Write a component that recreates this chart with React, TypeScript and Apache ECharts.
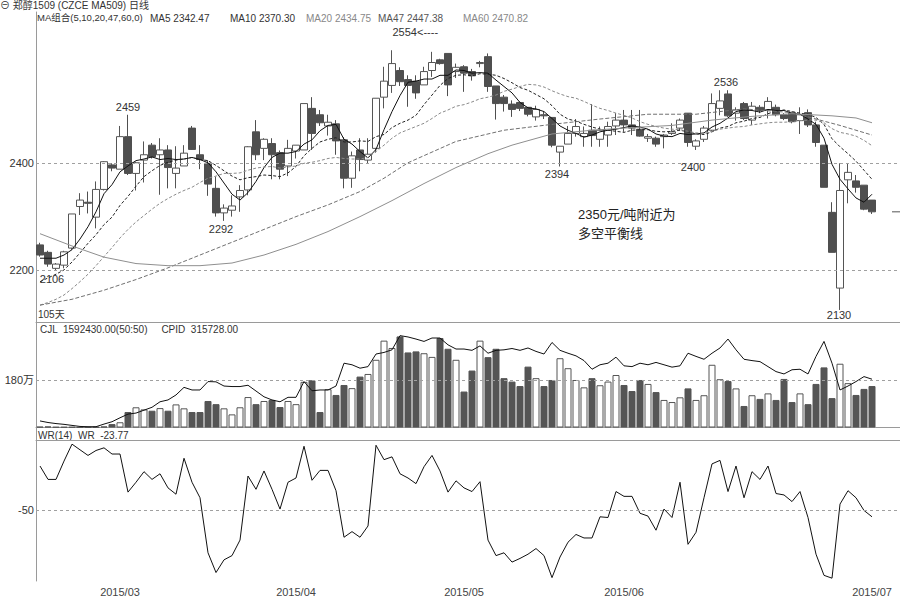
import React, { useEffect, useRef } from 'react';
import * as echarts from 'echarts';

// ---------- data ----------
const opens = [2247,2233,2203,2209,2241,2319,2327,2299,2351,2397,
2389,2450,2381,2406,2434,2416,2425,2381,2395,2466,
2416,2400,2353,2307,2312,2337,2350,2459,2428,2437,
2420,2395,2423,2425,2503,2491,2470,2474,2444,2372,
2425,2406,2428,2524,2546,2574,2557,2554,2547,2574,
2594,2606,2572,2581,2572,2587,2600,2545,2524,2511,
2514,2505,2487,2491,2486,2421,2436,2456,2450,2462,
2445,2453,2470,2481,2472,2464,2447,2447,2450,2456,
2466,2494,2432,2445,2462,2503,2530,2494,2512,2481,
2505,2500,2505,2491,2495,2480,2495,2472,2434,2308,
2166,2369,2367,2359,2331];
const closes = [2228,2211,2211,2234,2305,2331,2325,2351,2403,2391,
2450,2381,2401,2416,2412,2425,2392,2391,2419,2426,
2407,2361,2307,2316,2320,2349,2431,2416,2445,2416,
2389,2428,2434,2512,2456,2476,2477,2442,2372,2414,
2407,2417,2522,2554,2587,2553,2546,2532,2572,2589,
2587,2547,2580,2569,2564,2589,2544,2512,2512,2501,
2503,2492,2501,2489,2434,2432,2456,2469,2456,2452,
2462,2469,2481,2472,2466,2451,2450,2436,2453,2459,
2481,2439,2442,2466,2512,2517,2489,2500,2484,2507,
2499,2516,2491,2484,2478,2491,2472,2439,2355,2233,
2349,2383,2355,2314,2309];
const lows = [2225,2206,2199,2203,2238,2303,2306,2278,2349,2385,
2389,2378,2349,2364,2409,2341,2353,2353,2395,2425,
2389,2339,2300,2292,2300,2309,2340,2406,2406,2370,
2370,2376,2409,2425,2425,2470,2452,2416,2353,2354,
2385,2400,2420,2503,2532,2545,2506,2521,2547,2562,
2585,2526,2560,2534,2555,2580,2534,2482,2497,2487,
2498,2488,2480,2483,2430,2394,2436,2450,2431,2431,
2431,2431,2453,2459,2453,2450,2440,2431,2428,2453,
2462,2431,2425,2440,2460,2490,2487,2480,2481,2472,
2494,2484,2488,2481,2475,2455,2468,2431,2355,2233,
2125,2325,2345,2312,2305];
const highs = [2251,2236,2213,2236,2305,2344,2347,2366,2404,2400,
2470,2491,2403,2441,2438,2447,2434,2432,2434,2470,
2434,2406,2375,2323,2340,2359,2432,2481,2447,2447,
2424,2444,2434,2512,2524,2500,2491,2481,2449,2422,
2447,2447,2522,2581,2612,2580,2565,2565,2581,2609,
2596,2606,2587,2584,2577,2592,2606,2545,2528,2518,
2516,2505,2508,2497,2486,2432,2470,2483,2469,2511,
2469,2478,2494,2500,2500,2500,2455,2450,2455,2475,
2484,2494,2445,2470,2531,2537,2537,2505,2515,2515,
2509,2524,2510,2494,2497,2505,2501,2478,2434,2327,
2400,2400,2378,2359,2331];

const ma5 = [2222,2222,2222,2228,
2238,2258,2281,2309,2343,2360,2384,2395,2405,2408,
2412,2407,2409,2407,2408,2411,2407,2401,2384,2363,
2342,2331,2345,2366,2392,2411,2419,2419,2422,2436,
2444,2461,2471,2473,2445,2436,2422,2410,2426,2463,
2497,2527,2552,2554,2558,2558,2565,2565,2575,2574,
2569,2570,2569,2556,2544,2532,2514,2504,2502,2497,
2484,2470,2462,2456,2449,2453,2459,2462,2464,2467,
2470,2468,2464,2455,2451,2450,2456,2454,2455,2457,
2468,2475,2485,2497,2500,2499,2496,2501,2499,2499,
2494,2492,2483,2473,2447,2398,2370,2352,2335,2327,
2342];
const ma10 = [2178,2185,2192,2200,2215,2232,2250,2266,2285,
2299,2321,2338,2357,2375,2386,2396,2402,2406,2408,
2411,2407,2405,2396,2386,2376,2369,2373,2375,2378,
2377,2375,2382,2394,2414,2428,2440,2445,2448,2440,
2440,2442,2441,2450,2454,2467,2475,2481,2490,2510,
2528,2546,2559,2565,2566,2564,2568,2567,2565,2559,
2551,2542,2537,2529,2521,2508,2492,2483,2479,2473,
2468,2464,2462,2460,2458,2462,2463,2463,2460,2459,
2460,2462,2459,2455,2454,2459,2466,2469,2476,2479,
2484,2486,2493,2498,2500,2497,2494,2492,2486,2473,
2446,2431,2418,2404,2387,2370];
const ma20 = [2134,2139,2145,2153,2165,2178,2192,2208,2225,2242,2260,2276,2290,2302,2314,2325,2334,2342,2349,
2355,2364,2372,2376,2381,2381,2382,2387,2391,2393,
2394,2391,2393,2395,2400,2402,2405,2409,2411,2409,
2408,2408,2411,2422,2434,2447,2457,2463,2469,2475,
2484,2494,2500,2507,2510,2515,2521,2524,2528,2535,
2539,2544,2548,2547,2543,2536,2530,2525,2522,2516,
2509,2503,2499,2494,2490,2485,2478,2473,2469,2466,
2464,2463,2460,2457,2456,2460,2464,2466,2468,2469,
2472,2474,2476,2477,2477,2478,2480,2481,2481,2476,
2465,2458,2455,2451,2443,2433];
const ma47Idx = [0,4,8,12,16,20,24,28,32,36,40,43,46,52,58,64,70,76,82,88,94,100,104];
const ma47Val = [2134,2145,2162,2182,2204,2228,2252,2276,2300,2322,2347,2372,2401,2441,2462,2473,2483,2492,2492,2502,2495,2471,2453];
const ma60Idx = [0,4,8,12,16,20,24,28,32,36,40,44,48,52,56,59,64,69,74,79,84,89,94,99,102,104];
const ma60Val = [2268,2245,2224,2212,2208,2208,2213,2228,2248,2272,2300,2330,2362,2392,2418,2434,2455,2462,2467,2471,2481,2488,2493,2489,2485,2476];

const volume = [3,4,2,2,2,1,1,2,4,13,
20,59,77,69,64,74,64,88,73,59,
59,101,89,73,50,77,116,89,101,105,
78,101,89,174,180,59,146,124,162,150,
194,204,258,331,303,347,286,290,283,269,
341,300,258,137,217,331,268,300,188,175,
158,232,188,158,181,264,226,181,153,188,
161,175,200,162,139,181,166,135,105,97,
115,149,105,123,239,184,177,149,82,123,
109,130,105,185,97,130,89,166,229,112,
243,169,124,147,158];
const openInterest = [25,19,15,12,8,4,3,3,13,22,
37,51,55,66,77,98,105,124,153,143,
143,175,174,158,156,156,161,139,117,105,
98,115,115,175,140,143,143,158,245,239,
226,232,280,286,296,350,345,337,328,341,
341,315,299,299,294,311,283,294,296,301,
294,303,290,280,324,294,283,273,255,222,
239,245,268,235,232,245,239,248,239,230,
235,283,271,260,283,303,337,296,260,255,
251,232,213,204,220,222,204,271,328,245,
143,158,175,194,184];
const wr = [-18.5,-28,-28,-15,-3,-7,-11,-7.5,-5.6,-10,
-10,-37,-30,-22.5,-28,-24,-34,-38.5,-13,-30,
-41,-80,-94,-85,-82,-71,-25.6,-35,-22,-35,
-49,-30,-27,-4.5,-28.6,-21.6,-21.6,-36,-69,-65,
-69,-61,-3.8,-14,-12,-24,-27,-31,-19,-11,
-22,-37,-29,-34,-36.6,-29.6,-71,-82,-80,-86.6,
-84,-81,-77,-82,-97.6,-83,-72.5,-67,-69.5,-69.5,
-54.5,-55,-36.6,-40,-40,-52,-54,-64,-49,-55,
-30,-74,-65.5,-41,-17,-14.5,-36.6,-18.5,-41,-22.5,
-28,-18.5,-38,-39,-43.7,-36.6,-55,-81,-96,-98,
-45.5,-36,-41,-50,-54.5];

const slotCount = 108; // 105 trading days + empty right margin
const categories = Array.from({ length: slotCount }, (_, i) => String(i));
const tickIdx = [10, 32, 53, 73, 104];
const tickLabels = ['2015/03', '2015/04', '2015/05', '2015/06', '2015/07'];

const priceLines = [2400, 2200];
const volumeLine = 180;
const volumeLineLabel = '180万';
const wrLine = -50;

const peakIdx = [11, 44, 86];
const peakText = ['2459', '2554<----', '2536'];
const troughIdx = [2, 23, 65, 82, 100];
const troughText = ['2106', '2292', '2394', '2400', '2130'];

const maNames = ['MA5', 'MA10', 'MA20', 'MA47', 'MA60'];
const maHeaderValues = ['2342.47', '2370.30', '2434.75', '2447.38', '2470.82'];

const FONT = '"Liberation Sans","Noto Sans CJK SC",sans-serif';

export default function App() {
  const ref = useRef<HTMLDivElement>(null);
  useEffect(() => {
    document.body.style.margin = '0';
    const chart = echarts.init(ref.current!, null, { renderer: 'svg' });
    const candle = opens.map((o, i) => [o, closes[i], lows[i], highs[i]]);
    const volData = volume.map((v, i) => {
      const up = closes[i] >= opens[i];
      return {
        value: v,
        itemStyle: up
          ? { color: '#ffffff', borderColor: '#555', borderWidth: 1 }
          : { color: '#555555', borderColor: '#555', borderWidth: 1 },
      };
    });
    const labelStyle = { color: '#333', fontSize: 11, fontFamily: FONT };
    const peakOffsets: Record<number, any> = { 0: { position: 'top', offset: [0, 0] }, 1: { position: 'right', offset: [-2, -18] }, 2: { position: 'top', offset: [-2, 0] } };
    const troughOffsets: Record<number, any> = { 0: [-4, 1], 1: [-3, 0], 2: [-3, 0], 3: [-3, 9], 4: [-1, -3] };
    const markPoints: any[] = [];
    peakIdx.forEach((idx, k) => {
      markPoints.push({
        coord: [categories[idx], highs[idx]],
        symbol: 'circle', symbolSize: 1, itemStyle: { color: 'rgba(0,0,0,0)' },
        label: { show: true, formatter: peakText[k], distance: 2, ...labelStyle, ...peakOffsets[k] },
      });
    });
    troughIdx.forEach((idx, k) => {
      markPoints.push({
        coord: [categories[idx], lows[idx]],
        symbol: 'circle', symbolSize: 1, itemStyle: { color: 'rgba(0,0,0,0)' },
        label: { show: true, formatter: troughText[k], position: 'bottom', distance: 2, offset: troughOffsets[k], ...labelStyle },
      });
    });
    markPoints.push({
      coord: [categories[slotCount - 1], closes[closes.length - 1]],
      symbol: 'rect', symbolSize: [8, 1], itemStyle: { color: '#555' }, label: { show: false },
    });

    const hLine = (values: number[], texts: string[]) => ({
      silent: true,
      symbol: ['none', 'none'],
      lineStyle: { type: [3, 3], color: '#a0a0a0', width: 1 },
      label: { show: true, position: 'start', distance: 2, ...labelStyle },
      data: values.map((v, k) => ({ yAxis: v, label: { formatter: texts[k] } })),
    });

    const xBase = (gridIndex: number) => ({
      type: 'category', gridIndex, data: categories, boundaryGap: true,
      axisLine: { show: true, lineStyle: { color: '#9a9a9a', width: 1 } },
      axisTick: { show: false }, axisLabel: { show: false }, splitLine: { show: false },
    });
    const yBase = (gridIndex: number, min: number, max: number) => ({
      type: 'value', gridIndex, min, max,
      axisLine: { show: true, lineStyle: { color: '#9a9a9a', width: 1 } },
      axisTick: { show: false }, axisLabel: { show: false }, splitLine: { show: false },
    });

    const maLine = (name: string, data: any[], color: string, type: any) => ({
      name, type: 'line', xAxisIndex: 0, yAxisIndex: 0, data,
      showSymbol: false, symbol: 'none', smooth: false, silent: true,
      lineStyle: { color, width: 1, type },
      z: 3,
    });

    const small = `10px ${FONT}`;
    const headerTexts: any[] = [
      { type: 'text', left: 0, top: 0, style: { text: '⊖ 郑醇1509 (CZCE MA509) 日线', fill: '#333', font: small } },
      { type: 'text', left: 37, top: 13, style: { text: 'MA组合(5,10,20,47,60,0)', fill: '#333', font: `9.5px ${FONT}` } },
      { type: 'text', left: 38, top: 309, style: { text: '105天', fill: '#333', font: small } },
      { type: 'text', left: 40, top: 324, style: { text: 'CJL  1592430.00(50:50)     CPID  315728.00', fill: '#333', font: small } },
      { type: 'text', left: 38, top: 430, style: { text: 'WR(14)  WR  -23.77', fill: '#333', font: small } },
      { type: 'text', left: 578, top: 205, style: { text: '2350元/吨附近为\n多空平衡线', fill: '#222', font: `13px ${FONT}`, lineHeight: 19 } },
    ];
    const maHeaderX = [150, 230, 306, 378, 463];
    const maHeaderColor = ['#333', '#333', '#888', '#555', '#888'];
    maNames.forEach((n, k) => {
      headerTexts.push({ type: 'text', left: maHeaderX[k], top: 13, style: { text: `${n} ${maHeaderValues[k]}`, fill: maHeaderColor[k], font: small } });
    });

    chart.setOption({
      animation: false,
      backgroundColor: '#ffffff',
      grid: [
        { left: 36, right: 0, top: 12, height: 310 },
        { left: 36, right: 0, top: 322, height: 105.5 },
        { left: 36, right: 0, top: 427.5, height: 154.5 },
      ],
      xAxis: [
        xBase(0),
        xBase(1),
        {
          ...xBase(2),
          axisLabel: {
            show: true, color: '#444', fontSize: 11, fontFamily: FONT, margin: 5,
            interval: (index: number) => tickIdx.includes(index),
            formatter: (_v: string, index: number) => tickLabels[tickIdx.indexOf(index)] ?? '',
          },
        },
      ],
      yAxis: [yBase(0, 2102.4, 2683.7), yBase(1, 0, 402), yBase(2, -100, 8.8)],
      graphic: headerTexts,
      series: [
        {
          name: 'K', type: 'candlestick', xAxisIndex: 0, yAxisIndex: 0, data: candle, barWidth: 7,
          itemStyle: { color: '#ffffff', color0: '#4f4f4f', borderColor: '#555555', borderColor0: '#4f4f4f', borderWidth: 1 },
          markLine: hLine(priceLines, priceLines.map(String)),
          markPoint: { silent: true, data: markPoints },
          z: 2,
        },
        maLine('MA5', ma5, '#111', 'solid'),
        maLine('MA10', ma10, '#222', [3, 2]),
        maLine('MA20', ma20, '#8a8a8a', [3, 2]),
        maLine('MA47', ma47Idx.map((x, k) => [x, ma47Val[k]]), '#707070', [4, 2]),
        maLine('MA60', ma60Idx.map((x, k) => [x, ma60Val[k]]), '#8f8f8f', 'solid'),
        {
          name: 'CJL', type: 'bar', xAxisIndex: 1, yAxisIndex: 1, data: volData, barWidth: 7,
          markLine: hLine([volumeLine], [volumeLineLabel]),
        },
        {
          name: 'CPID', type: 'line', xAxisIndex: 1, yAxisIndex: 1, data: openInterest,
          showSymbol: false, symbol: 'none', lineStyle: { color: '#111', width: 1 }, z: 4,
        },
        {
          name: 'WR', type: 'line', xAxisIndex: 2, yAxisIndex: 2, data: wr,
          showSymbol: false, symbol: 'none', lineStyle: { color: '#111', width: 1 },
          markLine: hLine([wrLine], [String(wrLine)]),
        },
      ],
    });
    return () => chart.dispose();
  }, []);
  return <div ref={ref} style={{ position: 'absolute', left: 0, top: 0, width: 900, height: 597 }} />;
}
